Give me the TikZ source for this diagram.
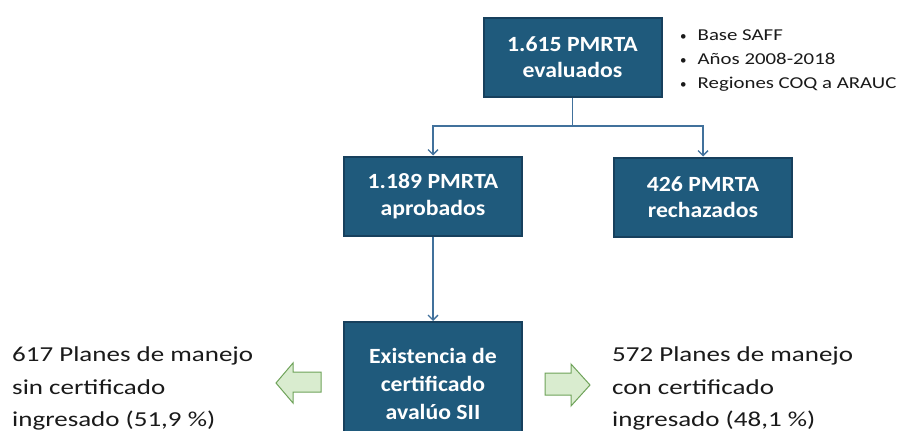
\documentclass[tikz,border=0pt]{standalone}
\usepackage{fontspec}
\setmainfont{Carlito}
\newfontfamily\boxfont[FakeStretch=1.094]{Carlito}
\newfontfamily\bulletfont[FakeStretch=1.255]{Carlito}
\newfontfamily\sidefont[FakeStretch=1.267]{Carlito}
\usetikzlibrary{arrows.meta}
\definecolor{boxblue}{HTML}{1F5A7C}
\definecolor{boxedge}{HTML}{17405D}
\definecolor{linkblue}{HTML}{41719C}
\definecolor{arrfill}{HTML}{D9ECCF}
\definecolor{arredge}{HTML}{6FA35A}
\definecolor{txt}{HTML}{1A1A1A}
\newcommand{\mybullet}{{\setmainfont{Carlito}\fontsize{13}{13}\selectfont\textbullet}}
\tikzset{
  bluebox/.style={draw=boxedge, line width=2pt, fill=boxblue, text=white,
    font=\boxfont\fontsize{21.7}{26.5}\selectfont\bfseries, align=center,
    minimum width=178pt, minimum height=79pt, inner sep=0pt},
  link/.style={draw=linkblue, line width=1.4pt},
  linkarrow/.style={link, -{Straight Barb[length=5pt,width=10pt,line width=1.4pt]}},
  bullettext/.style={anchor=base west, inner sep=0pt, text=txt, font=\bulletfont\fontsize{16.6}{20}\selectfont},
  sidetext/.style={anchor=base west, inner sep=0pt, text=txt, font=\sidefont\fontsize{21.3}{26}\selectfont},
  blockarrow/.style={fill=arrfill, draw=arredge, line width=1pt, line join=miter}
}
\begin{document}
\begin{tikzpicture}[x=1pt,y=-1pt]
\clip (0,0) rectangle (898,431);
\fill[white] (0,0) rectangle (898,431);

\node[bluebox] (top) at (572.5,57) {1.615 PMRTA\\evaluados};
\node[bluebox] (apr) at (433,196) {1.189 PMRTA\\aprobados};
\node[bluebox] (rech) at (703,197) {426 PMRTA\\rechazados};
\node[bluebox, minimum height=124pt, font=\boxfont\fontsize{21.7}{28}\selectfont\bfseries] (cert) at (433,384) {Existencia de\\certificado\\avalúo SII};

\coordinate (split) at (572.5,126);
\draw[link] (top.south) -- (split);
\draw[linkarrow] (split) -| (apr.north);
\draw[linkarrow] (split) -| (rech.north);
\draw[linkarrow] (apr.south) -- (cert.north);

\node[bullettext] (b1) at (680,40) {\mybullet\hspace{11pt}Base SAFF};
\node[bullettext] (b2) at (680,64) {\mybullet\hspace{11pt}Años 2008-2018};
\node[bullettext] (b3) at (680,88) {\mybullet\hspace{11pt}Regiones COQ a ARAUC};

\node[sidetext] (l1) at (12,361) {617 Planes de manejo};
\node[sidetext] (l2) at (12,394) {sin certificado};
\node[sidetext] (l3) at (12,426) {ingresado (51,9 \%)};

\node[sidetext] (r1) at (612,361) {572 Planes de manejo};
\node[sidetext] (r2) at (612,394) {con certificado};
\node[sidetext] (r3) at (612,426) {ingresado (48,1 \%)};

\draw[blockarrow] (276,383) -- (293,363) -- (293,372) -- (321,372) -- (321,392) -- (293,392) -- (293,403) -- cycle;
\draw[blockarrow] (590,385) -- (571,364) -- (571,373) -- (545,373) -- (545,395) -- (571,395) -- (571,406) -- cycle;
\end{tikzpicture}
\end{document}
